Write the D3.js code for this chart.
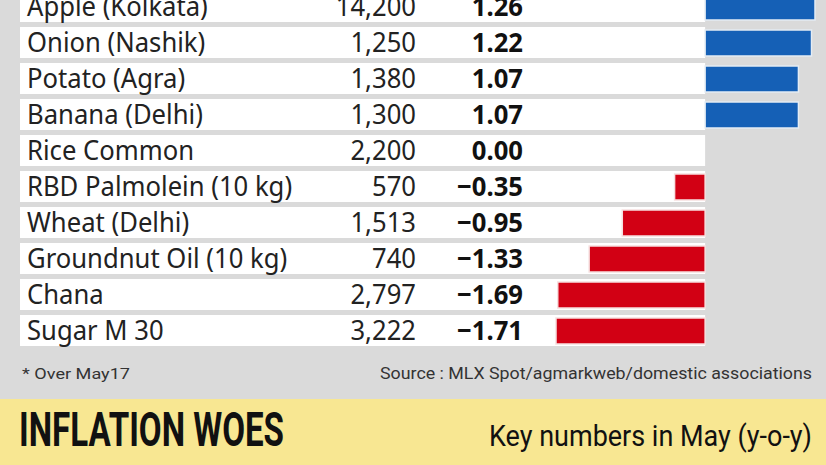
<!DOCTYPE html>
<html>
<head>
<meta charset="utf-8">
<script src="https://cdn.jsdelivr.net/npm/d3@7"></script>
<style>
  html, body { margin: 0; padding: 0; background: #dadada; }
  svg { display: block; }
</style>
</head>
<body>
<svg id="chart" width="826" height="465"></svg>
<script>
const categories = ["Apple (Kolkata)", "Onion (Nashik)", "Potato (Agra)", "Banana (Delhi)", "Rice Common",
  "RBD Palmolein (10 kg)", "Wheat (Delhi)", "Groundnut Oil (10 kg)", "Chana", "Sugar M 30"];
const prices = [14200, 1250, 1380, 1300, 2200, 570, 1513, 740, 2797, 3222];
const changes = [1.26, 1.22, 1.07, 1.07, 0.00, -0.35, -0.95, -1.33, -1.69, -1.71];
const title = "INFLATION WOES";
const subtitle = "Key numbers in May (y-o-y)";
const footnote = "* Over May17";
const source = "Source : MLX Spot/agmarkweb/domestic associations";

const W = 826, H = 465;
const svg = d3.select("#chart");
const labelFont = "'Noto Sans', 'Open Sans', sans-serif";
const condFont = "'Roboto', 'Noto Sans', sans-serif";

svg.append("rect").attr("width", W).attr("height", H).attr("fill", "#dadada");

const y = d3.scaleBand().domain(categories).range([-9, 346]).paddingInner(5 / 36).paddingOuter(0);
const x = d3.scaleLinear().domain([-1.71, 1.26]).range([556, 815]);

const rows = svg.append("g").selectAll("g").data(categories).join("g")
  .attr("transform", d => `translate(0,${y(d)})`);

rows.append("rect")
  .attr("x", 20).attr("y", 0)
  .attr("width", x(0) - 20).attr("height", y.bandwidth())
  .attr("fill", "#ffffff");

const bh = y.bandwidth() - 5;
rows.append("rect")
  .attr("x", (d, i) => Math.min(x(0), x(changes[i])))
  .attr("y", 3)
  .attr("width", (d, i) => Math.abs(x(changes[i]) - x(0)))
  .attr("height", bh)
  .attr("fill", (d, i) => changes[i] >= 0 ? "#1560b6" : "#d20014")
  .attr("stroke", (d, i) => changes[i] >= 0 ? "#e4ecf4" : "#f6e0e0")
  .attr("stroke-width", (d, i) => changes[i] === 0 ? 0 : 1.5);

const mid = y.bandwidth() / 2;
const sx = 0.95;
rows.append("text")
  .attr("transform", `translate(27,${mid + 9.5}) scale(${sx},1)`)
  .attr("font-family", labelFont).attr("font-size", 27)
  .attr("fill", "#222")
  .text(d => d);

const fmtPrice = d3.format(",");
rows.append("text")
  .attr("transform", `translate(416,${mid + 9.5}) scale(${sx},1)`)
  .attr("text-anchor", "end")
  .attr("font-family", labelFont).attr("font-size", 27)
  .attr("fill", "#222")
  .text((d, i) => fmtPrice(prices[i]));

const fmtChg = d3.format(".2f");
rows.append("text")
  .attr("transform", `translate(523,${mid + 9.5}) scale(${sx},1)`)
  .attr("text-anchor", "end")
  .attr("font-family", labelFont).attr("font-size", 27)
  .attr("font-weight", "bold")
  .attr("fill", "#111")
  .text((d, i) => fmtChg(changes[i]));

svg.append("text")
  .attr("x", 22).attr("y", 379)
  .attr("font-family", condFont).attr("font-size", 15)
  .attr("fill", "#333")
  .attr("textLength", 108).attr("lengthAdjust", "spacingAndGlyphs")
  .text(footnote);
svg.append("text")
  .attr("x", 812).attr("y", 379)
  .attr("text-anchor", "end")
  .attr("font-family", condFont).attr("font-size", 16)
  .attr("fill", "#333")
  .attr("textLength", 432).attr("lengthAdjust", "spacingAndGlyphs")
  .text(source);

svg.append("rect").attr("x", 0).attr("y", 399).attr("width", W).attr("height", H - 399)
  .attr("fill", "#f8e792");

svg.append("text")
  .attr("x", 19).attr("y", 446)
  .attr("font-family", condFont).attr("font-size", 48)
  .attr("font-weight", "bold")
  .attr("fill", "#111")
  .attr("textLength", 265).attr("lengthAdjust", "spacingAndGlyphs")
  .text(title);

svg.append("text")
  .attr("x", 812).attr("y", 446)
  .attr("text-anchor", "end")
  .attr("font-family", condFont).attr("font-size", 30)
  .attr("fill", "#111")
  .attr("textLength", 323).attr("lengthAdjust", "spacingAndGlyphs")
  .text(subtitle);
</script>
</body>
</html>
